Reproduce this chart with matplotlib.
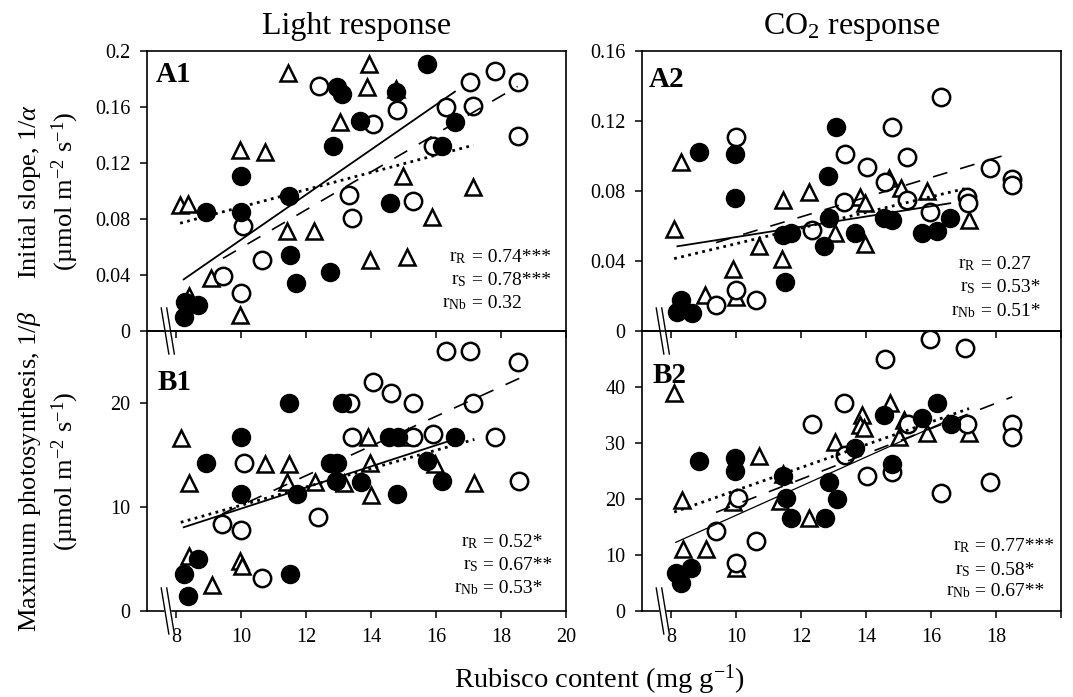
import numpy as np
import matplotlib
matplotlib.use('Agg')
import matplotlib.pyplot as plt

plt.rcParams['font.family'] = ['Liberation Serif', 'DejaVu Serif']
plt.rcParams['mathtext.fontset'] = 'custom'
plt.rcParams['mathtext.rm'] = 'Liberation Serif'
plt.rcParams['mathtext.it'] = 'Liberation Serif:italic'
plt.rcParams['mathtext.bf'] = 'Liberation Serif:bold'

# ---- data (x = Rubisco content, mg g-1) ----
# panel A1: light response, initial slope
a1_open_x = [12.39, 14.07, 14.79, 17.05, 17.82, 18.51, 16.31, 17.13, 18.51, 15.92, 13.33, 15.28, 13.40, 10.07, 10.64, 9.44, 10.00]
a1_open_y = [0.175, 0.148, 0.158, 0.178, 0.186, 0.178, 0.160, 0.161, 0.1395, 0.132, 0.097, 0.093, 0.081, 0.075, 0.051, 0.039, 0.027]
a1_fill_x = [15.73, 12.94, 13.10, 14.77, 13.66, 16.58, 16.17, 12.84, 10.00, 11.46, 8.91, 10.00, 14.58, 11.51, 12.72, 11.69, 8.28, 8.66, 8.23]
a1_fill_y = [0.1905, 0.1745, 0.169, 0.171, 0.150, 0.1495, 0.132, 0.132, 0.111, 0.0964, 0.0848, 0.0852, 0.0912, 0.0543, 0.0424, 0.034, 0.021, 0.0186, 0.0102]
a1_tri_x = [11.44, 13.95, 13.87, 14.77, 13.05, 9.95, 10.72, 8.12, 8.36, 14.98, 17.15, 11.40, 12.25, 15.88, 13.97, 15.10, 9.08, 8.38, 9.97]
a1_tri_y = [0.184, 0.1905, 0.1745, 0.173, 0.149, 0.129, 0.128, 0.090, 0.091, 0.111, 0.103, 0.0717, 0.0717, 0.0817, 0.0507, 0.053, 0.0376, 0.025, 0.0114]

# panel A2: CO2 response, initial slope
a2_open_x = [10.00, 16.32, 14.80, 13.36, 14.03, 15.27, 17.81, 18.50, 18.50, 14.59, 13.33, 15.27, 17.12, 17.14, 15.96, 12.34, 10.00, 9.38, 10.62]
a2_open_y = [0.1107, 0.1335, 0.1164, 0.101, 0.0935, 0.0992, 0.093, 0.087, 0.0835, 0.0853, 0.0739, 0.0749, 0.0768, 0.0733, 0.0682, 0.0577, 0.0234, 0.0149, 0.0177]
a2_fill_x = [8.87, 9.95, 9.95, 13.08, 12.84, 12.87, 11.43, 11.70, 11.50, 12.69, 13.67, 14.54, 14.80, 15.73, 16.19, 16.59, 8.30, 8.19, 8.64]
a2_fill_y = [0.1025, 0.1011, 0.0762, 0.1168, 0.0886, 0.0644, 0.0549, 0.0558, 0.0282, 0.0486, 0.0558, 0.0644, 0.0634, 0.0562, 0.0573, 0.0644, 0.0177, 0.011, 0.0101]
a2_tri_x = [8.30, 8.09, 12.25, 11.43, 10.70, 9.90, 10.00, 9.05, 11.40, 13.03, 13.82, 13.98, 13.98, 14.69, 15.06, 15.88, 17.17]
a2_tri_y = [0.0968, 0.0581, 0.0796, 0.0749, 0.0486, 0.0352, 0.0196, 0.0206, 0.041, 0.0558, 0.0768, 0.0733, 0.0497, 0.0872, 0.0815, 0.080, 0.0634]

# panel B1: light response, max photosynthesis
b1_open_x = [16.31, 17.05, 18.51, 14.07, 14.61, 15.28, 13.35, 17.13, 13.41, 15.92, 15.30, 17.82, 10.09, 18.56, 12.38, 9.41, 10.00, 10.64]
b1_open_y = [24.94, 24.94, 23.94, 21.96, 20.99, 19.94, 19.94, 19.94, 16.67, 16.99, 16.67, 16.67, 14.26, 12.5, 9.07, 8.33, 7.76, 3.21]
b1_fill_x = [11.46, 13.10, 10.00, 14.56, 14.84, 16.58, 8.92, 12.74, 12.94, 15.73, 12.92, 13.68, 16.17, 11.71, 10.00, 14.79, 11.51, 8.66, 8.23, 8.35]
b1_fill_y = [19.94, 19.94, 16.67, 16.67, 16.67, 16.67, 14.26, 14.26, 14.26, 14.42, 12.5, 12.44, 12.5, 11.22, 11.22, 11.22, 3.53, 4.97, 3.59, 1.44]
b1_tri_x = [8.14, 8.38, 10.74, 11.46, 11.41, 12.28, 13.15, 13.89, 13.97, 13.99, 15.15, 15.97, 17.18, 8.38, 9.97, 10.02, 9.10]
b1_tri_y = [16.6, 12.34, 14.17, 14.17, 12.44, 12.44, 12.34, 16.67, 14.26, 11.15, 16.67, 14.1, 12.34, 5.29, 4.81, 4.33, 2.47]

# panel B2: CO2 response, max photosynthesis
b2_open_x = [15.96, 17.05, 14.57, 13.33, 12.34, 17.12, 18.50, 18.50, 15.29, 13.36, 14.03, 14.80, 16.30, 17.81, 10.05, 9.38, 10.62, 10.00]
b2_open_y = [48.5, 47.0, 45.0, 37.08, 33.33, 33.33, 33.4, 31.0, 33.4, 27.86, 24.1, 24.9, 21.0, 22.98, 20.1, 14.35, 12.56, 8.63]
b2_fill_x = [8.87, 9.97, 9.97, 11.43, 11.52, 11.68, 12.72, 12.87, 13.10, 13.67, 14.56, 14.80, 15.73, 16.17, 16.61, 8.14, 8.61, 8.30]
b2_fill_y = [26.79, 27.26, 25.0, 24.1, 20.12, 16.55, 16.55, 22.98, 20.0, 29.05, 35.0, 26.19, 34.4, 37.2, 33.33, 6.73, 7.62, 4.94]
b2_tri_x = [8.09, 8.33, 8.35, 9.07, 9.98, 9.90, 10.70, 11.34, 11.43, 12.25, 13.05, 13.87, 13.82, 13.94, 14.75, 15.01, 15.17, 15.88, 17.17]
b2_tri_y = [38.87, 19.82, 11.01, 11.01, 7.62, 19.5, 27.68, 19.64, 24.5, 16.55, 30.24, 35.0, 33.2, 32.6, 37.2, 31.13, 34.1, 31.85, 31.73]

# regression lines (slope, intercept): R = open/dashed, S = filled/solid, Nb = triangle/dotted
a1_fits = {'R': (0.01354, -0.0759), 'S': (0.01606, -0.0953), 'Nb': (0.00617, 0.0269)}
a2_fits = {'R': (0.00562, -0.0022), 'S': (0.00293, 0.0244), 'Nb': (0.00447, 0.0052)}
b1_fits = {'R': (1.424, -4.08), 'S': (1.014, -0.30), 'Nb': (0.881, 1.35)}
b2_fits = {'R': (2.261, -3.59), 'S': (2.60, -8.9), 'Nb': (2.036, 1.19)}

a1_r = ['0.74***', '0.78***', '0.32']
a2_r = ['0.27', '0.53*', '0.51*']
b1_r = ['0.52*', '0.67**', '0.53*']
b2_r = ['0.77***', '0.58*', '0.67**']

x_ticks = [8, 10, 12, 14, 16, 18, 20]
a1_yticks = [0, 0.04, 0.08, 0.12, 0.16, 0.2]
a1_ylabels = ['0', '0.04', '0.08', '0.12', '0.16', '0.2']
a2_yticks = [0, 0.04, 0.08, 0.12, 0.16]
a2_ylabels = ['0', '0.04', '0.08', '0.12', '0.16']
b1_yticks = [0, 10, 20]
b2_yticks = [0, 10, 20, 30, 40]

W, H = 1073, 697
fig = plt.figure(figsize=(W / 100, H / 100), dpi=100)


def px_axes(x0, y0, x1, y1):
    return fig.add_axes([x0 / W, 1 - y1 / H, (x1 - x0) / W, (y1 - y0) / H])


ax_a1 = px_axes(147, 51, 566, 331)
ax_a2 = px_axes(642, 51, 1061, 331)
ax_b1 = px_axes(147, 331, 566, 611)
ax_b2 = px_axes(642, 331, 1061, 611)


def draw_break(ax, xval):
    x0, x1 = ax.get_xlim()
    xa = (xval - x0) / (x1 - x0)
    h = 23 / 280
    dx = 3.8 / 419
    sep = 5.5 / 419
    xs_l = [xa - sep / 2 - dx, xa - sep / 2 + dx]
    xs_r = [xa + sep / 2 - dx, xa + sep / 2 + dx]
    ax.fill([xs_l[0], xs_r[0], xs_r[1], xs_l[1]], [h, h, -h, -h], color='white',
            transform=ax.transAxes, clip_on=False, zorder=8)
    for xs in (xs_l, xs_r):
        ax.plot(xs, [h, -h], color='black', lw=1.0, transform=ax.transAxes,
                clip_on=False, zorder=9)


def panel(ax, label, open_x, open_y, fill_x, fill_y, tri_x, tri_y, fits, rvals,
          ylim, yticks, ylabels, xlabels, solid_lw, r_pos, lab_pos):
    ax.set_facecolor('none')
    ax.plot(tri_x, tri_y, '^', ms=12, mfc='white', mec='black', mew=1.8, ls='none', zorder=3)
    ax.plot(open_x, open_y, 'o', ms=12.5, mfc='white', mec='black', mew=1.8, ls='none', zorder=4)
    ax.plot(fill_x, fill_y, 'o', ms=13, mfc='black', mec='black', ls='none', zorder=5)

    for key, xs, style, lw in (('R', open_x, (0, (9, 8)), 1.2),
                               ('S', fill_x, '-', solid_lw),
                               ('Nb', tri_x, (0, (1, 1.6)), 2.0)):
        slope, icpt = fits[key]
        xx = np.array([min(xs), max(xs)])
        ax.plot(xx, slope * xx + icpt, color='black', ls=style, lw=lw, zorder=6)

    ax.set_xlim(7.1, 20)
    ax.set_ylim(*ylim)
    ax.set_xticks(x_ticks)
    ax.set_xticklabels(xlabels)
    ax.set_yticks(yticks)
    ax.set_yticklabels(ylabels)
    ax.tick_params(direction='out', length=5, width=1.1, labelsize=14.5, pad=7)
    for s in ax.spines.values():
        s.set_linewidth(1.2)

    ax.text(lab_pos[0], lab_pos[1], label, transform=ax.transAxes, fontsize=21,
            fontweight='bold', ha='left', va='top')
    rx, ry = r_pos
    for name, val, yy in zip(['R', 'S', 'Nb'], rvals, ry):
        ax.text(rx - 0.03, yy, r'r$_{\mathrm{%s}}$' % name, transform=ax.transAxes,
                fontsize=14, ha='right', va='center')
        ax.text(rx - 0.03, yy, ' = ' + val, transform=ax.transAxes,
                fontsize=14, ha='left', va='center')
    draw_break(ax, 7.74)


no_labels = [''] * len(x_ticks)
panel(ax_a1, 'A1', a1_open_x, a1_open_y, a1_fill_x, a1_fill_y, a1_tri_x, a1_tri_y, a1_fits, a1_r,
      (0, 0.2), a1_yticks, a1_ylabels, no_labels, 1.3, (0.793, [0.264, 0.182, 0.100]), (0.02, 0.965))
panel(ax_a2, 'A2', a2_open_x, a2_open_y, a2_fill_x, a2_fill_y, a2_tri_x, a2_tri_y, a2_fits, a2_r,
      (0, 0.16), a2_yticks, a2_ylabels, no_labels, 1.3, (0.826, [0.236, 0.154, 0.068]), (0.015, 0.945))
panel(ax_b1, 'B1', b1_open_x, b1_open_y, b1_fill_x, b1_fill_y, b1_tri_x, b1_tri_y, b1_fits, b1_r,
      (0, 26.9), b1_yticks, [str(v) for v in b1_yticks], [str(v) for v in x_ticks], 1.3,
      (0.821, [0.244, 0.161, 0.082]), (0.026, 0.865))
panel(ax_b2, 'B2', b2_open_x, b2_open_y, b2_fill_x, b2_fill_y, b2_tri_x, b2_tri_y, b2_fits, b2_r,
      (0, 50), b2_yticks, [str(v) for v in b2_yticks], [str(v) for v in x_ticks[:-1]] + [''], 0.9,
      (0.814, [0.229, 0.146, 0.068]), (0.026, 0.89))

ax_a1.set_title('Light response', fontsize=23, pad=12)
ax_a2.set_title('CO$_2$ response', fontsize=23, pad=12)

fig.text(30 / W, 1 - 191 / H, r'Initial slope, $\mathit{1/\alpha}$', rotation=90,
         ha='center', va='center', fontsize=19)
fig.text(65 / W, 1 - 191 / H, r'(µmol m$^{-2}$ s$^{-1}$)', rotation=90,
         ha='center', va='center', fontsize=19)
fig.text(30 / W, 1 - 471 / H, r'Maximum photosynthesis, $\mathit{1/\beta}$', rotation=90,
         ha='center', va='center', fontsize=19)
fig.text(65 / W, 1 - 471 / H, r'(µmol m$^{-2}$ s$^{-1}$)', rotation=90,
         ha='center', va='center', fontsize=19)
fig.text(600 / W, 1 - 680 / H, r'Rubisco content (mg g$^{-1}$)', ha='center', va='center',
         fontsize=20.5)

fig.savefig('out.png', dpi=100)
